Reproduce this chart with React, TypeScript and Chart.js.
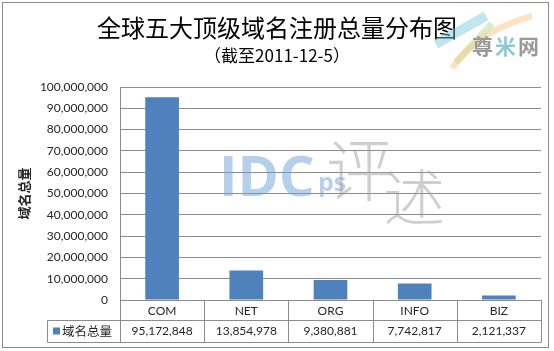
import React, { useEffect, useRef } from "react";
import { Chart, registerables } from "chart.js";

Chart.register(...registerables);

const categories = ["COM", "NET", "ORG", "INFO", "BIZ"];
const values = [95172848, 13854978, 9380881, 7742817, 2121337];
const seriesName = "域名总量";
const titleText = "全球五大顶级域名注册总量分布图";
const subtitleText = "（截至2011-12-5）";
const yMax = 100000000;
const yStep = 10000000;

const BAR = "#4F81BD";
const LINE = "#8c8c8c";
const TXT = "#262626";
const LATIN = "Lato, 'Liberation Sans', sans-serif";
const CJK = "'Noto Sans CJK SC', sans-serif";

const fmt = (v: number) => v.toLocaleString("en-US");

const decorPlugin = {
  id: "decor",
  beforeDraw(chart: any) {
    const ctx = chart.ctx;
    ctx.save();
    ctx.fillStyle = "#fff";
    ctx.fillRect(0, 0, chart.width, chart.height);
    ctx.strokeStyle = "#8a8a8a";
    ctx.lineWidth = 1;
    ctx.strokeRect(2.5, 2.5, 546, 345);
    ctx.restore();
  },
  afterDraw(chart: any) {
    const ctx = chart.ctx;
    const area = chart.chartArea;
    const xs = chart.scales.x;
    ctx.save();
    // Titles
    ctx.fillStyle = "#000";
    ctx.textAlign = "center";
    ctx.textBaseline = "middle";
    ctx.font = `24px ${CJK}`;
    ctx.fillText(titleText, chart.width / 2, 28);
    ctx.font = `17px ${CJK}`;
    ctx.fillText(subtitleText, chart.width / 2, 56);

    // Y axis title
    ctx.save();
    ctx.translate(24, (area.top + area.bottom) / 2);
    ctx.rotate(-Math.PI / 2);
    ctx.font = `bold 13px ${CJK}`;
    ctx.fillStyle = TXT;
    ctx.fillText(seriesName, 0, 0);
    ctx.restore();

    // Data table
    const n = categories.length;
    const colW = (area.right - area.left) / n;
    const r0 = area.bottom;
    const r1 = r0 + 19.5;
    const r2 = r1 + 22;
    const legendLeft = 47.5;
    ctx.strokeStyle = LINE;
    ctx.lineWidth = 1;
    ctx.beginPath();
    ctx.moveTo(area.left, r0 + 0.5);
    ctx.lineTo(area.right, r0 + 0.5);
    ctx.moveTo(legendLeft, Math.round(r1) + 0.5);
    ctx.lineTo(area.right, Math.round(r1) + 0.5);
    ctx.moveTo(legendLeft, Math.round(r2) + 0.5);
    ctx.lineTo(area.right, Math.round(r2) + 0.5);
    for (let i = 0; i <= n; i++) {
      const x = Math.round(area.left + i * colW) + 0.5;
      ctx.moveTo(x, r0);
      ctx.lineTo(x, Math.round(r2) + 0.5);
    }
    ctx.moveTo(legendLeft, Math.round(r1) + 0.5);
    ctx.lineTo(legendLeft, Math.round(r2) + 0.5);
    ctx.stroke();

    ctx.fillStyle = TXT;
    ctx.font = `12px ${LATIN}`;
    for (let i = 0; i < n; i++) {
      const cx = xs.getPixelForValue(i);
      ctx.fillText(categories[i], cx, (r0 + r1) / 2 + 1);
      ctx.fillText(fmt(values[i]), cx, (r1 + r2) / 2 + 1);
    }
    // legend key
    ctx.fillStyle = BAR;
    ctx.fillRect(53, (r1 + r2) / 2 - 3, 7, 7);
    ctx.fillStyle = TXT;
    ctx.textAlign = "left";
    ctx.font = `12.5px ${CJK}`;
    ctx.fillText(seriesName, 62, (r1 + r2) / 2 + 1);

    // Watermark IDC ps 评述
    ctx.textBaseline = "alphabetic";
    ctx.fillStyle = "rgba(110,160,220,0.5)";
    ctx.font = `bold 56px 'Open Sans', ${LATIN}`;
    ctx.fillText("IDC", 219, 196);
    ctx.font = `bold 25px 'Open Sans', ${LATIN}`;
    ctx.fillText("ps", 318, 191);
    ctx.fillStyle = "rgba(160,160,160,0.5)";
    ctx.textBaseline = "top";
    ctx.font = `300 68px ${CJK}`;
    ctx.fillText("评", 326, 136);
    ctx.font = `300 62px ${CJK}`;
    ctx.fillText("述", 383, 166);

    // 尊米网 logo
    ctx.lineCap = "butt";
    ctx.strokeStyle = "rgba(120,200,220,0.45)";
    ctx.lineWidth = 10;
    ctx.beginPath();
    ctx.moveTo(436, 44);
    ctx.lineTo(486, 16);
    ctx.stroke();
    ctx.strokeStyle = "rgba(170,215,140,0.45)";
    ctx.lineWidth = 7;
    ctx.beginPath();
    ctx.moveTo(456, 62);
    ctx.lineTo(492, 24);
    ctx.stroke();
    ctx.strokeStyle = "rgba(250,200,130,0.5)";
    ctx.lineWidth = 6;
    ctx.beginPath();
    ctx.moveTo(452, 68);
    ctx.quadraticCurveTo(480, 30, 532, 16);
    ctx.stroke();
    ctx.textBaseline = "middle";
    ctx.font = `bold 21px ${CJK}`;
    ctx.fillStyle = "#999999";
    ctx.fillText("尊", 472, 46);
    ctx.fillStyle = "#8ccbd2";
    ctx.fillText("米", 495, 46);
    ctx.fillStyle = "#999999";
    ctx.fillText("网", 518, 46);
    ctx.restore();
  },
};

export default function App() {
  const ref = useRef<HTMLCanvasElement | null>(null);
  useEffect(() => {
    if (!ref.current) return;
    const chart = new Chart(ref.current, {
      type: "bar",
      data: {
        labels: categories,
        datasets: [
          {
            label: seriesName,
            data: values,
            backgroundColor: BAR,
            borderWidth: 0,
            categoryPercentage: 1,
            barPercentage: 0.4,
          },
        ],
      },
      options: {
        responsive: false,
        animation: false,
        devicePixelRatio: 1,
        layout: { padding: { top: 87, bottom: 51, left: 0, right: 13 } },
        plugins: {
          legend: { display: false },
          title: { display: false },
          tooltip: { enabled: false },
        },
        scales: {
          x: { display: false },
          y: {
            min: 0,
            max: yMax,
            afterFit: (s: any) => {
              s.width = 120;
            },
            ticks: {
              stepSize: yStep,
              padding: 12,
              color: TXT,
              font: { family: LATIN, size: 12 },
              callback: (v: any) => fmt(Number(v)),
            },
            grid: { color: LINE, drawTicks: false, lineWidth: 1 },
            border: { display: true, color: LINE },
          },
        },
      },
      plugins: [decorPlugin],
    });
    return () => chart.destroy();
  }, []);
  return (
    <div style={{ position: "absolute", left: 0, top: 0, width: 554, height: 351 }}>
      <canvas ref={ref} width={554} height={351} />
    </div>
  );
}
